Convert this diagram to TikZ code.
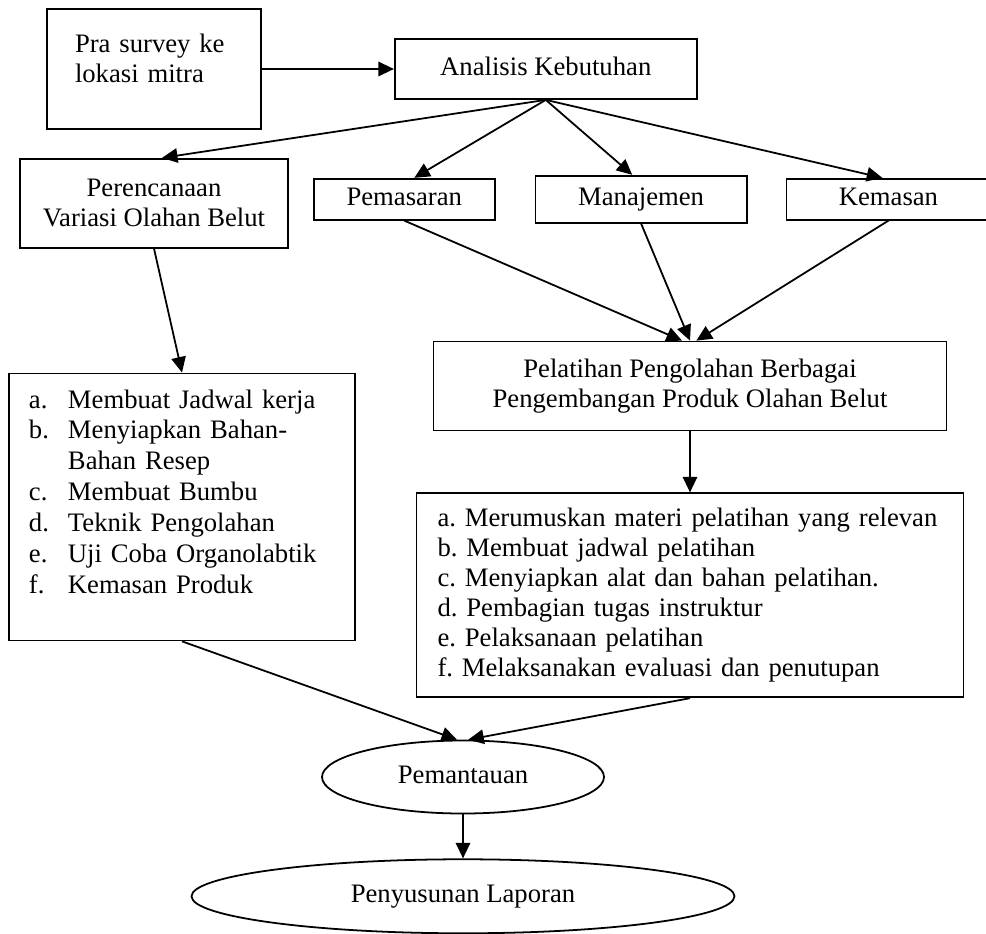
\documentclass[tikz,border=0pt]{standalone}
\usepackage{fontspec}
\setmainfont{Liberation Serif}
\frenchspacing
\usepackage{tikz}
\usetikzlibrary{positioning, arrows.meta, shapes.geometric}
\tikzset{
    proc/.style={rectangle, draw=black, line width=0.8pt, fill=white, align=center, inner sep=2pt, font=\fontsize{12}{13.5}\selectfont},
    oneline/.style={text height=8.2pt, text depth=2.6pt},
    listbox/.style={rectangle, draw=black, line width=0.8pt, fill=white, align=left, inner xsep=9pt, inner ysep=2pt},
    oval/.style={ellipse, draw=black, line width=0.8pt, fill=white, inner sep=1pt, text height=8.2pt, text depth=2.6pt, font=\fontsize{12}{13.5}\selectfont},
    arrow/.style={-{Triangle[length=7pt, width=6.5pt]}, line width=0.8pt}
}

\begin{document}
\begin{tikzpicture}
        \useasboundingbox (0,0) rectangle (443.7pt,-419.85pt);

        \node[proc, align=left, inner xsep=12.6pt, text width=71.1pt, minimum height=54pt] (PraSurvey) at (69.3pt,-31.05pt) {Pra survey ke\\lokasi mitra\\[-4pt]\mbox{}};
        \node[proc, oneline, right=59.4pt of PraSurvey, minimum width=135.9pt, minimum height=27pt] (Analisis) {Analisis Kebutuhan};

        \node[proc, below=12.6pt of PraSurvey, minimum width=120.6pt, minimum height=40pt] (Rencana) {Perencanaan\\Variasi Olahan Belut};
        \node[proc, oneline, right=10.8pt of Rencana, yshift=1.8pt, minimum width=81.45pt, minimum height=18.45pt] (Pemasaran) {Pemasaran};
        \node[proc, oneline, right=17.55pt of Pemasaran, minimum width=95pt, minimum height=21.15pt] (Manajemen) {Manajemen};
        \node[proc, oneline, right=17.1pt of Manajemen, minimum width=91.8pt, minimum height=18.45pt] (Kemasan) {Kemasan};

        \node[proc, below=52.65pt of Manajemen, xshift=22pt, minimum width=230.85pt, minimum height=40.05pt] (Pelatihan) {Pelatihan Pengolahan Berbagai\\Pengembangan Produk Olahan Belut};

        \node[listbox, below=55.8pt of Rencana, xshift=12.6pt, text width=137.7pt, minimum height=120.15pt, font=\fontsize{12}{13.9}\selectfont] (LangkahOlah) {%
            \makebox[17.55pt][l]{a.}Membuat Jadwal kerja\\
            \makebox[17.55pt][l]{b.}Menyiapkan Bahan-\\
            \hspace*{17.55pt}Bahan Resep\\
            \makebox[17.55pt][l]{c.}Membuat Bumbu\\
            \makebox[17.55pt][l]{d.}Teknik Pengolahan\\
            \makebox[17.55pt][l]{e.}Uji Coba Organolabtik\\
            \makebox[17.55pt][l]{f.}Kemasan Produk\\
            \mbox{}};

        \node[listbox, below=27.45pt of Pelatihan, inner xsep=9.45pt, text width=227.25pt, minimum height=91.8pt, font=\fontsize{12}{13.5}\selectfont] (LangkahLatih) {%
            a. Merumuskan materi pelatihan yang relevan\\
            b. Membuat jadwal pelatihan\\
            c. Menyiapkan alat dan bahan pelatihan.\\
            d. Pembagian tugas instruktur\\
            e. Pelaksanaan pelatihan\\
            f. Melaksanakan evaluasi dan penutupan};

        \node[oval, minimum width=126.9pt, minimum height=32.85pt] (Pantau) at (208.35pt,-349.65pt) {Pemantauan};
        \node[oval, below=19.8pt of Pantau, minimum width=244.35pt, minimum height=33.3pt] (Laporan) {Penyusunan Laporan};

        \draw[arrow] (PraSurvey) -- (Analisis);
        \draw[arrow] (Analisis.south) -- (Rencana.80);
        \draw[arrow] (Analisis.south) -- (Pemasaran.65);
        \draw[arrow] (Analisis.south) -- (Manajemen.110);
        \draw[arrow] (Analisis.south) -- (Kemasan.106);

        \draw[arrow] (Pemasaran.south) -- (Pelatihan.100);
        \draw[arrow] (Manajemen.south) -- (Pelatihan.north);
        \draw[arrow] (Kemasan.south) -- (Pelatihan.82);

        \draw[arrow] (Rencana.south) -- (LangkahOlah.north);
        \draw[arrow] (Pelatihan.south) -- (LangkahLatih.north);

        % both lists end in monitoring
        \draw[arrow] (LangkahOlah.south) -- (Pantau.99);
        \draw[arrow] (LangkahLatih.south) -- (Pantau.82);
        \draw[arrow] (Pantau) -- (Laporan);
    \end{tikzpicture}
\end{document}
